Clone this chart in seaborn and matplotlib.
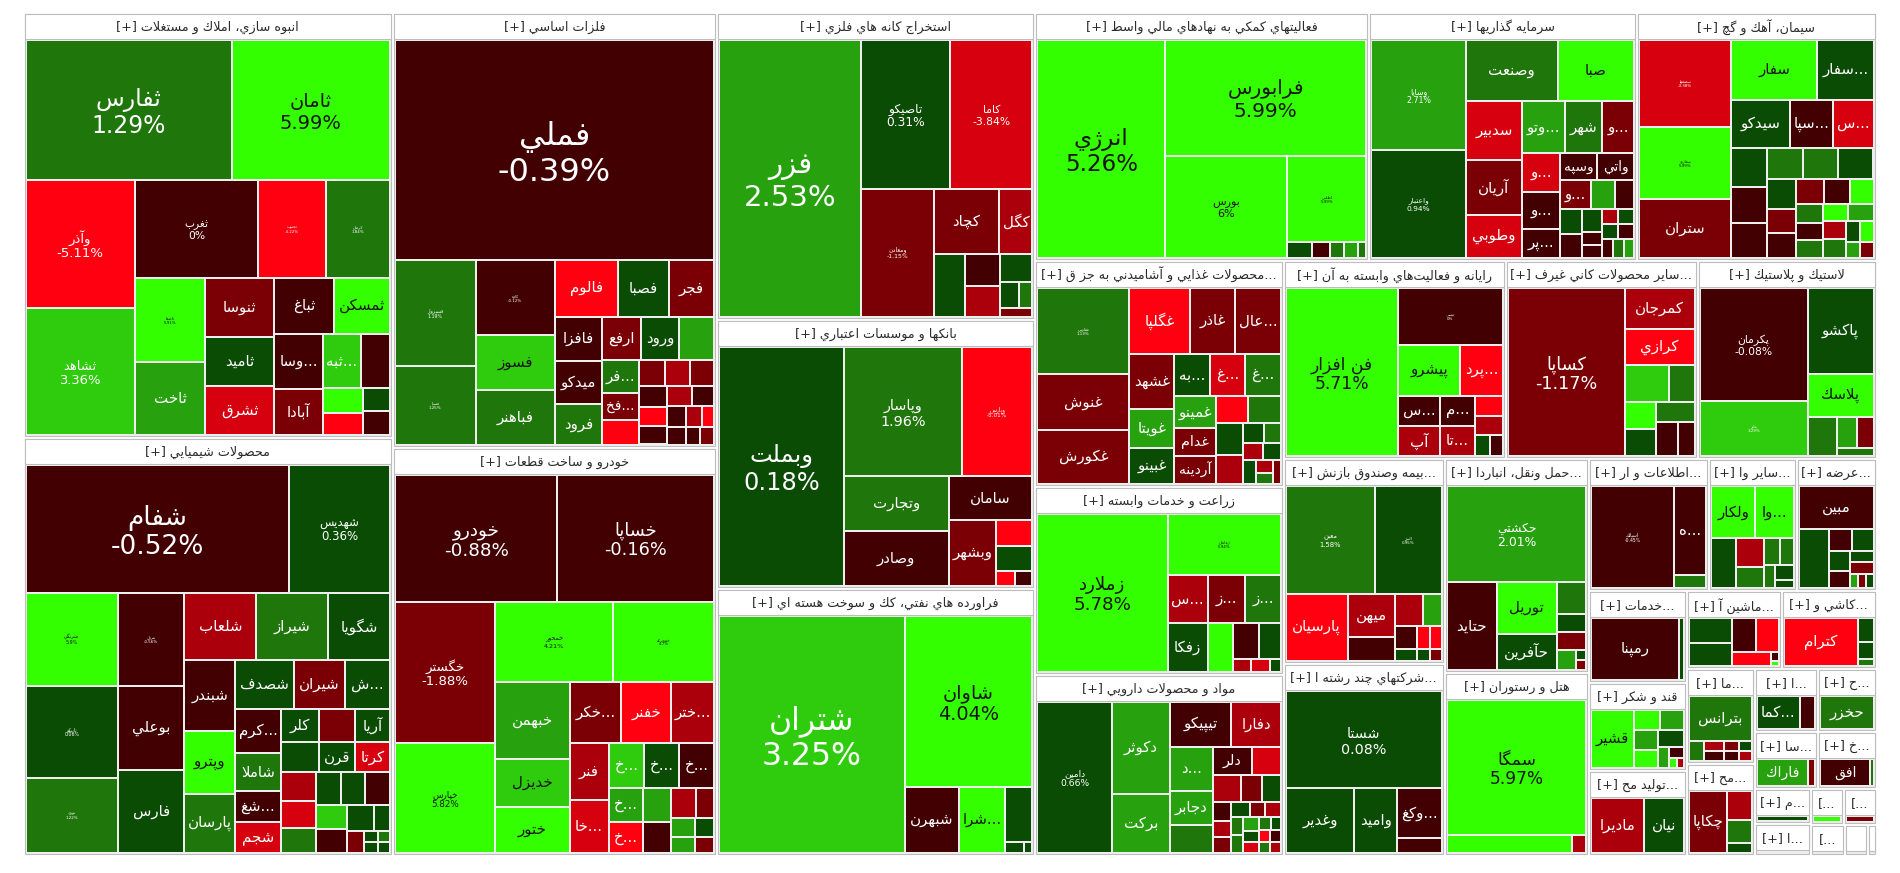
import numpy as np
import matplotlib
matplotlib.use("Agg")
import matplotlib.pyplot as plt
from matplotlib.patches import Rectangle
import seaborn as sns

# ------------------ Data ------------------
sector_names = [
    "انبوه سازي، املاك و مستغلات", "محصولات شيميايي", "فلزات اساسي", "خودرو و ساخت قطعات",
    "استخراج كانه هاي فلزي", "بانكها و موسسات اعتباري", "فراورده هاي نفتي، كك و سوخت هسته اي",
    "فعاليتهاي كمكي به نهادهاي مالي واسط", "سرمايه گذاريها", "سيمان، آهك و گچ",
    "محصولات غذايي و آشاميدني به جز قند و شكر", "زراعت و خدمات وابسته", "مواد و محصولات دارويي",
    "رايانه و فعاليت\u200cهاي وابسته به آن", "ساير محصولات كاني غيرفلزي", "لاستيك و پلاستيك",
    "بيمه وصندوق بازنشستگي به جز تامين اجتماعي", "شركتهاي چند رشته اي صنعتي",
    "حمل ونقل، انبارداري و ارتباطات", "هتل و رستوران", "اطلاعات و ارتباطات",
    "ساير واسطه گريهاي مالي", "عرضه برق، گاز، بخاروآب گرم", "خدمات فني و مهندسي", "قند و شكر",
    "توليد محصولات كامپيوتري الكترونيكي ونوري", "ماشين آلات و تجهيزات", "كاشي و سراميك",
    "ماشين آلات و دستگاه\u200cهاي برقي", "محصولات كاغذي", "استخراج نفت گاز و خدمات جنبي",
    "حمل و نقل آبي", "ساخت محصولات فلزي", "خرده فروشي،باستثناي وسايل نقليه موتوري",
    "منسوجات", "انتشار، چاپ و تكثير", "استخراج ذغال سنگ", "استخراج ساير معادن",
    "پيمانكاري صنعتي", "محصولات چوبي", "دباغي، پرداخت چرم",
]
sector_caps = [156825, 154242, 140940, 132192, 97626, 85542, 84906, 82832, 66464, 59272,
               56048, 46624, 44888, 43956, 38016, 35442, 33005, 30912, 30816, 26352,
               15840, 11616, 10560, 8924, 8536, 8245, 7392, 7315, 6528, 6256,
               3965, 3700, 3600, 3364, 1925, 1155, 1155, 1760, 1056, 704, 256]

s01_names = ["ثفارس", "ثامان", "وآذر", "ثشاهد", "ثغرب", "ثجنوب", "كرمان", "ثاصفا", "ثاخت", "ثنوسا",
             "ثاميد", "ثشرق", "ثباغ", "ثمسكن", "وساخت", "آبادا", "ثبهساز", "", "", "", "", ""]
s01_values = [28566, 21942, 13910, 13696, 12054, 6566, 6272, 5865, 5037, 4002,
              3381, 3312, 3245, 3080, 2632, 2184, 2068, 1568, 975, 858, 621, 621]
s01_pct = [1.29, 5.99, -5.11, 3.36, 0, -4.22, 1.84, 5.91, 2.4, -1.6,
           0.6, -3.5, -0.5, 5.5, -0.7, -1.4, 3.1, -0.3, 4.5, -4.5, 0.4, -0.2]

s02_names = ["شفام", "شهديس", "شرنگي", "تاپيكو", "نوري", "پترول", "بوعلي", "فارس", "شلعاب", "شيراز",
             "شگويا", "شبندر", "وپترو", "پارسان", "شصدف", "شيران", "شپديس", "كرماشا", "شاملا", "شغدير",
             "شجم", "كلر", "", "آريا", "شدوص", "قرن", "كرتا"] + [""] * 15
s02_values = [32472, 12423, 8277, 8188, 6675, 5952, 5376, 5248, 4680, 4680,
              4030, 3479, 3087, 2842, 2714, 2392, 2070, 1936, 1628, 1364,
              1320, 1216, 1152, 1120, 1102, 1044, 1015, 990, 891, 825,
              806, 775, 775, 720, 700, 672, 408, 350, 150, 150, 120, 120]
s02_pct = [-0.52, 0.36, 5.9, 0.06, 1.22, -0.56, -0.03, 0.5, -2.5, 1.5,
           0.7, -0.4, 5.0, 1.5, 0.7, -1.5, 0.5, -0.6, 1.4, -0.3,
           -3.2, 0.8, -1.7, 0.5, 0.6, 0.9, -3.1, -3.0, -3.2, 1.5,
           0.7, 0.5, -0.5, 3.5, -0.6, 0.4, 0.3, -1.2, 0.3, 0.8, 1.2, 0.4]

s03_names = ["فملي", "فسبزوار", "فسپا", "كاوه", "فسوز", "فباهنر", "فالوم", "فصبا", "فجر", "فافزا",
             "ميدكو", "فرود", "ارفع", "ورود", "فنورد", "فروسيل", "فخاس"] + [""] * 15
s03_values = [69874, 8453, 6320, 5928, 4290, 4290, 3528, 2856, 2520, 2068,
              2021, 1880, 1672, 1628, 1496, 1225, 980, 910, 675, 648,
              621, 572, 520, 506, 506, 442, 396, 342, 330, 247, 247, 242]
s03_pct = [-0.39, 1.19, 1.25, -0.12, 3.9, 1.2, -4.5, 0.6, -1.5, -0.4,
           -0.5, 1.3, -1.4, 0.8, 2.3, 1.6, -1.3, -4.5, -1.6, -2.6,
           -1.8, -0.5, -4.5, -0.6, -2.4, -0.3, -0.4, -0.6, -2.5, -4.3, -0.5, -1.5]

s04_names = ["خودرو", "خساپا", "خگستر", "خپارس", "خمحور", "خمحركه", "خبهمن", "خديزل", "ختور", "خكرمان",
             "خفنر", "خترانس", "فنر", "خاذين", "خريخت", "خچرخش", "خرينگ", "خزاميا", "خشرق", "خمهر",
             "خودكفا"] + [""] * 6
s04_values = [20375, 19625, 14014, 10780, 9360, 7956, 5694, 3504, 3358, 3120,
              3000, 2580, 2204, 2014, 1584, 1540, 1540, 1155, 1023, 980,
              868, 720, 540, 437, 368, 361, 304]
s04_pct = [-0.88, -0.16, -1.88, 5.82, 4.21, 4.7, 2.24, 3.7, 4.3, -1.3,
           -4.5, -2.5, -2.6, -3.5, 3.0, 0.5, -0.6, 2.3, -4.5, 2.1,
           -0.4, -2.8, -1.5, 2.2, 2.1, 0.4, -1.6]

s05_names = ["فزر", "تاصيكو", "كاما", "ومعادن", "كچاد", "كگل", "كدما", "", "", "", "", "", ""]
s05_values = [38920, 13172, 12136, 9230, 4290, 2145, 1920, 1104, 1080, 880, 483, 345, 253]
s05_pct = [2.53, 0.31, -3.84, -1.15, -1.6, -2.5, 0.5, -0.4, -2.5, 0.6, 0.7, 1.5, -1.2]

s06_names = ["وبملت", "وپاسار", "وپارس", "وتجارت", "وصادر", "سامان", "وبشهر", "", "", "", ""]
s06_values = [29520, 15222, 9030, 5720, 5616, 3655, 3036, 925, 888, 285, 255]
s06_pct = [0.18, 1.96, -5.01, 1.4, -0.14, -0.6, -1.5, -4.6, 0.6, -4.5, -0.5]

s07_names = ["شتران", "شاوان", "شبهرن", "شرانل", "", "", ""]
s07_values = [43424, 21632, 3498, 2970, 1458, 198, 88]
s07_pct = [3.25, 4.04, -0.7, 4.5, 0.6, 0.4, 0.8]

s08_names = ["انرژي", "فرابورس", "بورس", "اطلس", "", "", "", "", ""]
s08_values = [28067, 23548, 12584, 6885, 391, 289, 221, 221, 136]
s08_pct = [5.26, 5.99, 6, 5.99, 0.5, -0.5, 1.5, 2.2, 1.4]

s09_names = ["وسايا", "واعتبار", "وصنعت", "صبا", "سدبير", "آريان", "وطوبي", "وتوسم", "شهر", "ونيكي",
             "وبوعلي", "وسكاب", "پرديس", "وسپه", "واتي", "وسين"] + [""] * 14
s09_values = [10101, 9828, 5520, 4620, 3190, 3025, 2365, 2142, 1887, 1632,
              1406, 1369, 1073, 962, 962, 841, 667, 551, 525, 483,
              450, 252, 252, 240, 240, 231, 231, 208, 208, 189]
s09_pct = [2.71, 0.94, 1.49, 4.8, -3.5, -1.4, -3.6, 2.3, 1.3, -1.4,
           -3.4, -0.6, -0.8, -0.5, -0.7, -1.3, 2.2, -0.6, 0.6, -0.4,
           0.5, -0.6, -0.5, -2.5, 0.7, 0.4, -0.3, -0.5, 1.8, 2.0]

s10_names = ["سصفها", "سفارود", "ستران", "سفار", "سفارس", "سيدكو", "سپاهان", "سجام", "", "",
             "", "ساربيل", "ساروم", "", "اعتلا"] + [""] * 16
s10_values = [7568, 6192, 5100, 4900, 3192, 2700, 1935, 1845, 1280, 1216,
              1152, 1073, 1044, 1044, 806, 676, 676, 638, 616, 528,
              484, 440, 440, 420, 418, 396, 396, 280, 252, 220, 200]
s10_pct = [-3.38, 5.99, -1.3, 5.0, 0.6, 0.5, -0.5, -3.5, 0.5, -0.5,
           -0.4, 1.5, 1.6, 0.5, 0.6, -1.4, -0.5, -1.5, -0.4, 4.5,
           1.3, -0.5, 1.5, 4.4, 2.2, -2.2, 1.2, 0.6, 4.5, 2.5, -1.5]

s11_names = ["غفارس", "غنوش", "غكورش", "غگلپا", "غاذر", "عاليس", "غشهد", "غويتا", "غبينو", "بهپاك",
             "غدشت", "غشاذر", "غمينو", "غدام", "آردينه"] + [""] * 12
s11_values = [7300, 4700, 4500, 3660, 2760, 2760, 2296, 1599, 1476, 1369,
              1369, 1369, 1221, 1073, 1036, 792, 792, 792, 720, 391,
              306, 306, 270, 270, 216, 162, 162]
s11_pct = [1.13, -1.4, -1.6, -4.5, -1.5, -1.6, -1.4, 2.2, 0.5, 0.5,
           -3.3, 1.4, 2.1, -1.3, -2.0, -4.5, 1.7, 0.6, -2.5, 0.6,
           1.6, -2.8, 0.6, 0.5, -2.6, 1.5, -1.5]

s12_names = ["زملارد", "زماهان", "سيمرغ", "زفكا", "زگلدشت", "زشريف", "زپارس", "", "زكشت", "", "", ""]
s12_values = [20480, 6900, 1920, 1920, 1776, 1680, 1232, 968, 784, 220, 220, 132]
s12_pct = [5.78, 5.94, -2.6, 0.6, -1.5, 1.4, 4.5, -0.5, 0.7, -3.0, -3.3, 0.4]

s13_names = ["دامين", "دكوثر", "بركت", "تيپيكو", "دفارا", "دسبحا", "دجابر", "", "دلر"] + [""] * 21
s13_values = [10100, 4800, 3078, 2484, 1998, 1696, 1312, 1080, 990, 736,
              690, 529, 460, 300, 250, 250, 250, 200, 200, 200,
              200, 200, 150, 150, 150, 120, 120, 120, 100, 100]
s13_pct = [0.66, 2.2, 2.3, -0.6, -2.8, 2.1, 2.2, 1.6, -0.5, -3.3,
           -2.6, -1.5, 0.6, -0.5, -3.0, -1.6, 0.6, -1.4, -2.5, 1.3,
           1.4, 2.1, 0.6, -3.2, 1.5, 0.5, -4.5, -0.4, 1.6, -2.6]

s14_names = ["فن افزار", "تپسي", "پيشرو", "پردازش", "سيستم", "آپ", "مداران", "تاپكيش", "", "", "", ""]
s14_values = [17576, 5609, 2926, 1998, 1184, 1178, 960, 960, 513, 486, 300, 250]
s14_pct = [5.71, 0, 5.0, -4.5, -0.5, -2.8, -0.6, -2.5, -4.5, -3.0, 0.6, -0.5]

s15_names = ["كساپا", "كمرجان", "كرازي"] + [""] * 7
s15_values = [19266, 2808, 2451, 1596, 910, 832, 832, 735, 735, 544]
s15_pct = [-1.17, -2.5, -4.5, 3.3, 1.6, 4.5, 0.6, 1.4, -0.5, -0.6]

s16_names = ["پكرمان", "پتاير", "پاكشو", "پلاسك", "", "", "", ""]
s16_values = [11978, 5830, 5610, 2772, 1100, 600, 500, 300]
s16_pct = [-0.08, 3.29, 0.49, 5.0, 1.4, 2.2, -1.5, 1.3]

s17_names = ["معين", "البرز", "پارسيان", "ميهن"] + [""] * 9
s17_values = [9328, 6996, 3944, 1935, 1080, 870, 570, 484, 264, 264, 264, 144, 144]
s17_pct = [1.58, 0.95, -4.6, -2.5, -0.5, -2.4, 2.2, -0.5, 0.5, -4.5, -4.6, 0.5, -1.5]

s18_names = ["شستا", "وغدير", "واميد", "وكغدير", ""]
s18_values = [15132, 4355, 2730, 2200, 616]
s18_pct = [0.08, 0.7, 0.6, -0.6, -0.5]

s19_names = ["حكشتي", "حتايد", "توريل", "حآفرين", "حسير", "", "", "", "", ""]
s19_values = [13113, 4272, 3068, 2124, 930, 510, 510, 360, 100, 100]
s19_pct = [2.01, -0.6, 4.5, 0.6, 1.5, 0.6, -1.5, 2.1, 0.5, -1.5]

s20_names = ["سمگا", "", ""]
s20_values = [18753, 2250, 252]
s20_pct = [5.97, 4.8, -3.0]

s21_names = ["اسياتك", "همراه", ""]
s21_values = [8343, 2816, 416]
s21_pct = [-0.45, -0.6, 1.6]

s22_names = ["ولكار", "واعتماد", "ولساپا"] + [""] * 7
s22_values = [2244, 1938, 1200, 760, 575, 425, 350, 264, 264, 150]
s22_pct = [4.5, 4.8, 0.6, -2.5, 1.6, 1.4, 1.5, 1.3, 0.6, 0.5]

s23_names = ["مبين"] + [""] * 10
s23_values = [3108, 1740, 462, 440, 400, 352, 260, 260, 105, 104, 104]
s23_pct = [-0.5, 0.6, -0.5, 0.6, 0.5, -0.4, 0.5, -1.4, 2.2, -1.5, 0.5]

s24_names, s24_values, s24_pct = ["رمپنا", ""], [5332, 310], [-0.83, 0.5]
s25_names = ["قشير"] + [""] * 9
s25_values = [2320, 486, 450, 432, 396, 396, 216, 156, 80, 60]
s25_pct = [4.6, 4.6, 2.1, 2.3, 4.5, 0.6, 2.2, -0.5, 4.5, -3.0]
s26_names, s26_values, s26_pct = ["ماديرا", "نيان"], [2912, 2184], [-2.6, 0.6]
s27_names = [""] * 7
s27_values = [1008, 924, 768, 704, 518, 72, 40]
s27_pct = [0.6, 0.5, -0.5, -4.3, -4.5, -0.5, 4.5]
s28_names, s28_values, s28_pct = ["كترام", "", "", ""], [3431, 352, 256, 96], [-4.6, 0.6, 0.5, 1.5]
s29_names = ["بترانس"] + [""] * 7
s29_values = [2860, 330, 198, 198, 165, 165, 132, 132]
s29_pct = [1.3, 1.6, -2.5, -0.4, -1.5, -0.5, 0.5, -3.0]
s30_names, s30_values, s30_pct = ["چكاپا", "", "", ""], [2432, 725, 575, 250], [-1.6, -2.6, 1.4, 0.5]
s31_names, s31_values, s31_pct = ["كماسه", ""], [1386, 495], [0.6, -0.5]
s32_names, s32_values, s32_pct = ["حخزر"], [1749], [1.4]
s33_names, s33_values, s33_pct = ["فاراك", ""], [1300, 182], [2.3, -1.5]
s34_names, s34_values, s34_pct = ["افق", ""], [1350, 80], [-0.5, 1.4]
s35_names, s35_values, s35_pct = [""], [500], [0.5]
s36_names, s36_values, s36_pct = [""], [500], [4.5]
s37_names, s37_values, s37_pct = [""], [500], [-1.5]
s38_names, s38_values, s38_pct = ["", "", "", ""], [300, 200, 150, 150], [4.5, 0.5, -3.0, -1.5]
s39_names, s39_values, s39_pct = [""], [500], [-1.5]
s40_names, s40_values, s40_pct = ["", ""], [300, 200], [0.5, -3.0]
s41_names, s41_values, s41_pct = [""], [100], [0.5]

sector_stocks = [
    (s01_names, s01_values, s01_pct), (s02_names, s02_values, s02_pct), (s03_names, s03_values, s03_pct),
    (s04_names, s04_values, s04_pct), (s05_names, s05_values, s05_pct), (s06_names, s06_values, s06_pct),
    (s07_names, s07_values, s07_pct), (s08_names, s08_values, s08_pct), (s09_names, s09_values, s09_pct),
    (s10_names, s10_values, s10_pct), (s11_names, s11_values, s11_pct), (s12_names, s12_values, s12_pct),
    (s13_names, s13_values, s13_pct), (s14_names, s14_values, s14_pct), (s15_names, s15_values, s15_pct),
    (s16_names, s16_values, s16_pct), (s17_names, s17_values, s17_pct), (s18_names, s18_values, s18_pct),
    (s19_names, s19_values, s19_pct), (s20_names, s20_values, s20_pct), (s21_names, s21_values, s21_pct),
    (s22_names, s22_values, s22_pct), (s23_names, s23_values, s23_pct), (s24_names, s24_values, s24_pct),
    (s25_names, s25_values, s25_pct), (s26_names, s26_values, s26_pct), (s27_names, s27_values, s27_pct),
    (s28_names, s28_values, s28_pct), (s29_names, s29_values, s29_pct), (s30_names, s30_values, s30_pct),
    (s31_names, s31_values, s31_pct), (s32_names, s32_values, s32_pct), (s33_names, s33_values, s33_pct),
    (s34_names, s34_values, s34_pct), (s35_names, s35_values, s35_pct), (s36_names, s36_values, s36_pct),
    (s37_names, s37_values, s37_pct), (s38_names, s38_values, s38_pct), (s39_names, s39_values, s39_pct),
    (s40_names, s40_values, s40_pct), (s41_names, s41_values, s41_pct),
]

# ------------------ Style ------------------
sns.set_theme(style="white")
plt.rcParams['font.family'] = ['DejaVu Sans']

pos_colors = sns.color_palette(['#0b4c05', '#1f760b', '#28a10f', '#2fcb0d', '#33ff00'])
neg_colors = sns.color_palette(['#420003', '#7a0006', '#ab000b', '#d6000f', '#ff0010'])

def tile_color(p):
    if p > 0:
        return pos_colors[min(int(p), 4)]
    return neg_colors[min(int(-p - 1e-9) if p < 0 else 0, 4)]

# ------------------ Arabic shaping (matplotlib has no RTL layout) ------------------
AR_FORMS = {
    '\u0621': ('\uFE80',), '\u0622': ('\uFE81', '\uFE82'), '\u0623': ('\uFE83', '\uFE84'),
    '\u0624': ('\uFE85', '\uFE86'), '\u0625': ('\uFE87', '\uFE88'),
    '\u0626': ('\uFE89', '\uFE8A', '\uFE8B', '\uFE8C'), '\u0627': ('\uFE8D', '\uFE8E'),
    '\u0628': ('\uFE8F', '\uFE90', '\uFE91', '\uFE92'), '\u0629': ('\uFE93', '\uFE94'),
    '\u062A': ('\uFE95', '\uFE96', '\uFE97', '\uFE98'), '\u062B': ('\uFE99', '\uFE9A', '\uFE9B', '\uFE9C'),
    '\u062C': ('\uFE9D', '\uFE9E', '\uFE9F', '\uFEA0'), '\u062D': ('\uFEA1', '\uFEA2', '\uFEA3', '\uFEA4'),
    '\u062E': ('\uFEA5', '\uFEA6', '\uFEA7', '\uFEA8'), '\u062F': ('\uFEA9', '\uFEAA'),
    '\u0630': ('\uFEAB', '\uFEAC'), '\u0631': ('\uFEAD', '\uFEAE'), '\u0632': ('\uFEAF', '\uFEB0'),
    '\u0633': ('\uFEB1', '\uFEB2', '\uFEB3', '\uFEB4'), '\u0634': ('\uFEB5', '\uFEB6', '\uFEB7', '\uFEB8'),
    '\u0635': ('\uFEB9', '\uFEBA', '\uFEBB', '\uFEBC'), '\u0636': ('\uFEBD', '\uFEBE', '\uFEBF', '\uFEC0'),
    '\u0637': ('\uFEC1', '\uFEC2', '\uFEC3', '\uFEC4'), '\u0638': ('\uFEC5', '\uFEC6', '\uFEC7', '\uFEC8'),
    '\u0639': ('\uFEC9', '\uFECA', '\uFECB', '\uFECC'), '\u063A': ('\uFECD', '\uFECE', '\uFECF', '\uFED0'),
    '\u0641': ('\uFED1', '\uFED2', '\uFED3', '\uFED4'), '\u0642': ('\uFED5', '\uFED6', '\uFED7', '\uFED8'),
    '\u0643': ('\uFED9', '\uFEDA', '\uFEDB', '\uFEDC'), '\u0644': ('\uFEDD', '\uFEDE', '\uFEDF', '\uFEE0'),
    '\u0645': ('\uFEE1', '\uFEE2', '\uFEE3', '\uFEE4'), '\u0646': ('\uFEE5', '\uFEE6', '\uFEE7', '\uFEE8'),
    '\u0647': ('\uFEE9', '\uFEEA', '\uFEEB', '\uFEEC'), '\u0648': ('\uFEED', '\uFEEE'),
    '\u0649': ('\uFEEF', '\uFEF0'), '\u064A': ('\uFEF1', '\uFEF2', '\uFEF3', '\uFEF4'),
    '\u067E': ('\uFB56', '\uFB57', '\uFB58', '\uFB59'), '\u0686': ('\uFB7A', '\uFB7B', '\uFB7C', '\uFB7D'),
    '\u0698': ('\uFB8A', '\uFB8B'), '\u06A9': ('\uFB8E', '\uFB8F', '\uFB90', '\uFB91'),
    '\u06AF': ('\uFB92', '\uFB93', '\uFB94', '\uFB95'), '\u06CC': ('\uFBFC', '\uFBFD', '\uFBFE', '\uFBFF'),
}
LAM_ALEF = {'\u0622': ('\uFEF5', '\uFEF6'), '\u0623': ('\uFEF7', '\uFEF8'),
            '\u0625': ('\uFEF9', '\uFEFA'), '\u0627': ('\uFEFB', '\uFEFC')}

def joins_next(c):
    return c in AR_FORMS and len(AR_FORMS[c]) == 4

def shape(text):
    out, i, n = [], 0, len(text)
    while i < n:
        c = text[i]
        if c not in AR_FORMS:
            if c != '\u200c':
                out.append(c)
            i += 1
            continue
        jp = i > 0 and joins_next(text[i - 1])
        if c == '\u0644' and i + 1 < n and text[i + 1] in LAM_ALEF:
            out.append(LAM_ALEF[text[i + 1]][1 if jp else 0])
            i += 2
            continue
        forms = AR_FORMS[c]
        jn = len(forms) == 4 and i + 1 < n and text[i + 1] in AR_FORMS
        if len(forms) == 1:
            f = forms[0]
        elif len(forms) == 2:
            f = forms[1] if jp else forms[0]
        else:
            f = forms[3] if (jp and jn) else forms[1] if jp else forms[2] if jn else forms[0]
        out.append(f)
        i += 1
    return ''.join(reversed(out))

# ------------------ Squarified layout (ratio 1) ------------------
def squarify(values, x0, y0, x1, y1):
    rects, total, n, i0 = [], float(sum(values)), len(values), 0
    while i0 < n:
        dx, dy = x1 - x0, y1 - y0
        if dx <= 0 or dy <= 0 or total <= 0:
            rects += [(x0, y0, 0, 0)] * (n - i0)
            break
        s = vmin = vmax = values[i0]
        i1 = i0 + 1
        alpha = max(dy / dx, dx / dy) / total
        beta = s * s * alpha
        best = max(vmax / beta, beta / vmin)
        while i1 < n:
            v = values[i1]
            s2 = s + v
            beta = s2 * s2 * alpha
            r = max(max(vmax, v) / beta, beta / min(vmin, v))
            if r > best:
                break
            s, best, vmin, vmax = s2, r, min(vmin, v), max(vmax, v)
            i1 += 1
        if dx < dy:
            h, xx = dy * s / total, x0
            for v in values[i0:i1]:
                w = dx * v / s
                rects.append((xx, y0, w, h))
                xx += w
            y0 += h
        else:
            w, yy = dx * s / total, y0
            for v in values[i0:i1]:
                h = dy * v / s
                rects.append((x0, yy, w, h))
                yy += h
            x0 += w
        total -= s
        i0 = i1
    return rects

# ------------------ Drawing ------------------
fig = plt.figure(figsize=(19, 8.73), dpi=100)
ax = fig.add_axes([0, 0, 1, 1])
ax.set_xlim(0, 1900)
ax.set_ylim(873, 0)
ax.axis('off')
rend = fig.canvas.get_renderer()
PT = 0.72      # pixels -> points at 100 dpi
HEADER = 25

def text_width(t):
    return t.get_window_extent(rend).width

def draw_header(x0, y0, x1, name):
    t = ax.text((x0 + x1) / 2, y0 + HEADER / 2 + 1, '', fontsize=9.2, color='#2b2b2b',
                ha='center', va='center')
    cands = ['[+] ' + shape(name)]
    cands += ['[+] ' + shape(name[:k].rstrip()) + '...' for k in range(len(name) - 1, 0, -1)
              if name[:k].strip()]
    cands += ['[+]...', '[+...', '[...']
    for c in cands:
        t.set_text(c)
        if text_width(t) <= x1 - x0 - 6:
            return
    t.set_text('')

def draw_label(x, y, w, h, name, pct):
    if not name:
        return
    cx, cy = x + w / 2, y + h / 2
    col = '#151515' if pct >= 3.6 else 'white'
    s = np.sqrt(w * h)
    if s >= 74:
        fs = min(max(min(0.33 * (s - 76), 12 + 0.2 * (s - 110)), 4.0), 32.0, h / 2.3)
        t1 = ax.text(cx, cy - 0.4 * fs, shape(name), fontsize=fs * PT, color=col, ha='center', va='center')
        t2 = ax.text(cx, cy + 0.7 * fs, f"{pct:g}%", fontsize=fs * PT, color=col, ha='center', va='center')
        wmax = max(text_width(t1), text_width(t2))
        if wmax > 0.9 * w:
            fs *= 0.9 * w / wmax
            t1.set_fontsize(fs * PT)
            t2.set_fontsize(fs * PT)
            t1.set_y(cy - 0.4 * fs)
            t2.set_y(cy + 0.7 * fs)
    elif w >= 28 and h >= 24:
        fs = min(15.0, h * 0.55)
        t = ax.text(cx, cy, '', fontsize=fs * PT, color=col, ha='center', va='center')
        cands = [shape(name)] + [shape(name[:k]) + '...' for k in range(len(name) - 1, 0, -1)]
        for c in cands:
            t.set_text(c)
            if text_width(t) <= w - 4:
                return
        t.set_text('')

order = sorted(range(len(sector_caps)), key=lambda i: -sector_caps[i])
sector_rects = squarify([sector_caps[i] for i in order], 23, 12, 1876, 855)

for k, (x, y, w, h) in zip(order, sector_rects):
    sx0, sy0, sx1, sy1 = x + 1.5, y + 1.5, x + w - 1.5, y + h - 1.5
    if sx1 - sx0 < 1 or sy1 - sy0 < 1:
        continue
    ax.add_patch(Rectangle((sx0, sy0), sx1 - sx0, sy1 - sy0, facecolor='#eeeeee',
                           edgecolor='#bdbdbd', lw=0.8))
    ax.add_patch(Rectangle((sx0, sy0), sx1 - sx0, min(HEADER, sy1 - sy0), facecolor='white',
                           edgecolor='#bdbdbd', lw=0.8))
    draw_header(sx0, sy0, sx1, sector_names[k])

    names, values, pcts = sector_stocks[k]
    idx = sorted(range(len(values)), key=lambda i: -values[i])
    ix0, iy0, ix1, iy1 = sx0 + 1, sy0 + HEADER + 1, sx1 - 1, sy1 - 1
    if ix1 - ix0 < 1 or iy1 - iy0 < 1:
        continue
    tiles = squarify([values[i] for i in idx], ix0, iy0, ix1, iy1)
    for i, (tx, ty, tw, th) in zip(idx, tiles):
        rx, ry, rw, rh = tx + 1, ty + 1, tw - 2, th - 2
        if rw <= 0 or rh <= 0:
            continue
        ax.add_patch(Rectangle((rx, ry), rw, rh, facecolor=tile_color(pcts[i]), lw=0))
        draw_label(rx, ry, rw, rh, names[i], pcts[i])

fig.savefig('out.png', dpi=100, facecolor='white')
